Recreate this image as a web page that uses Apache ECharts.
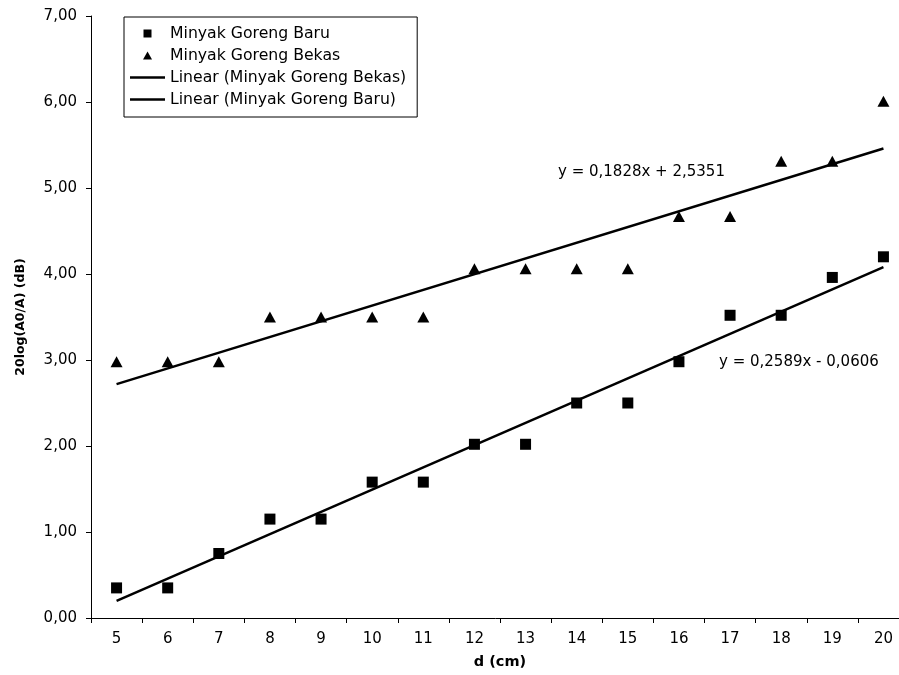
<!DOCTYPE html>
<html><head><meta charset="utf-8">
<script src="https://cdn.jsdelivr.net/npm/echarts@6/dist/echarts.min.js"></script>
<style>html,body{margin:0;padding:0;background:#fff}#c{width:899px;height:675px}</style>
</head><body><div id="c"></div>
<script>
var categories = ['5','6','7','8','9','10','11','12','13','14','15','16','17','18','19','20'];
var baru  = [0.35,0.35,0.75,1.15,1.15,1.58,1.58,2.02,2.02,2.50,2.50,2.98,3.52,3.52,3.96,4.20];
var bekas = [2.98,2.98,2.98,3.50,3.50,3.50,3.50,4.06,4.06,4.06,4.06,4.67,4.67,5.31,5.31,6.01];
// trendline end values (at d=5 and d=20)
var trendBekasEnds = [2.72, 5.46];
var trendBaruEnds  = [0.20, 4.08];
var yTickLabels = ['0,00','1,00','2,00','3,00','4,00','5,00','6,00','7,00'];
var eqBekas = 'y = 0,1828x + 2,5351';
var eqBaru  = 'y = 0,2589x - 0,0606';

function endsToSeries(ends){
  var arr = categories.map(function(){return null;});
  arr[0] = ends[0]; arr[arr.length-1] = ends[1];
  return arr;
}
var FONT = 'DejaVu Sans, Verdana, sans-serif';
var chart = echarts.init(document.getElementById('c'));
chart.setOption({
  backgroundColor:'#fff',
  animation:false,
  textStyle:{fontFamily:FONT,color:'#000'},
  grid:{left:91,top:16,width:818,bottom:57,containLabel:false,outerBoundsMode:'none'},
  xAxis:{
    type:'category', data:categories, boundaryGap:true,
    name:'d (cm)', nameLocation:'middle', nameGap:37,
    nameTextStyle:{fontFamily:FONT,fontWeight:'bold',fontSize:14.5,color:'#000'},
    axisLine:{lineStyle:{color:'#000',width:1}},
    axisTick:{show:true,length:5,lineStyle:{color:'#000'}},
    axisLabel:{fontFamily:FONT,fontSize:15,color:'#000',margin:14,interval:0},
    splitLine:{show:false}
  },
  yAxis:{
    type:'value', min:0, max:7, interval:1,
    name:'20log(A0/A) (dB)', nameLocation:'middle', nameGap:64, nameRotate:90,
    nameTextStyle:{fontFamily:FONT,fontWeight:'bold',fontSize:12.5,color:'#000'},
    axisLine:{show:true,lineStyle:{color:'#000',width:1}},
    axisTick:{show:true,length:5,lineStyle:{color:'#000'}},
    axisLabel:{fontFamily:FONT,fontSize:15,color:'#000',margin:14,
      formatter:function(v){return yTickLabels[Math.round(v)];}},
    splitLine:{show:false}
  },
  legend:{
    left:124, top:17, orient:'vertical',
    backgroundColor:'#fff', borderColor:'#000', borderWidth:1,
    padding:[8,11,9,6], itemGap:5, itemWidth:35, itemHeight:10,
    textStyle:{fontFamily:FONT,fontSize:15.7,color:'#000',lineHeight:17},
    data:[
      {name:'Minyak Goreng Baru', icon:'path://M-1,-1M0,0h8v8h-8zM9,9'},
      {name:'Minyak Goreng Bekas', icon:'path://M-0.5,0M4.5,1L9,9L0,9zM9.5,10'},
      {name:'Linear (Minyak Goreng Bekas)', icon:'path://M0,0h35v2.5h-35z'},
      {name:'Linear (Minyak Goreng Baru)', icon:'path://M0,0h35v2.5h-35z'}
    ]
  },
  graphic:[
    {type:'text', left:558, top:165, style:{text:eqBekas, font:'15px '+FONT, fill:'#000'}},
    {type:'text', left:719, top:355, style:{text:eqBaru, font:'15px '+FONT, fill:'#000'}}
  ],
  series:[
    {name:'Minyak Goreng Baru', type:'scatter', data:baru, symbol:'rect', symbolSize:11,
     itemStyle:{color:'#000',opacity:1}, z:3},
    {name:'Minyak Goreng Bekas', type:'scatter', data:bekas, symbol:'triangle', symbolSize:[12,11],
     itemStyle:{color:'#000',opacity:1}, z:3},
    {name:'Linear (Minyak Goreng Bekas)', type:'line', data:endsToSeries(trendBekasEnds), connectNulls:true,
     showSymbol:false, symbol:'none', lineStyle:{color:'#000',width:2.5}, itemStyle:{color:'#000'}, z:2},
    {name:'Linear (Minyak Goreng Baru)', type:'line', data:endsToSeries(trendBaruEnds), connectNulls:true,
     showSymbol:false, symbol:'none', lineStyle:{color:'#000',width:2.5}, itemStyle:{color:'#000'}, z:2}
  ]
});
</script></body></html>
